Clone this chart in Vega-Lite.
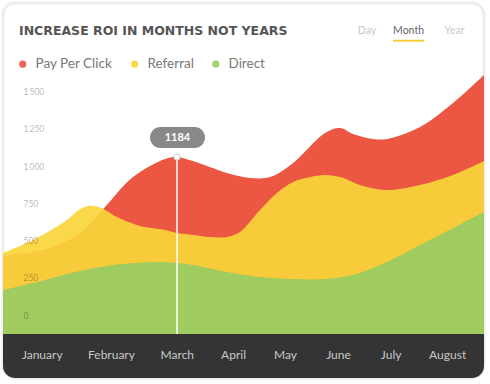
{
  "$schema": "https://vega.github.io/schema/vega-lite/v6.json",
  "autosize": {"type": "none"},
  "padding": {"left": 3, "top": 60, "right": 6, "bottom": 6},
  "width": 481,
  "height": 318,
  "background": "#ffffff",
  "config": {"view": {"stroke": null}},
  "title": {"text": "INCREASE ROI IN MONTHS NOT YEARS", "anchor": "start", "frame": "group", "orient": "top", "font": "DejaVu Sans", "fontSize": 12.5, "fontWeight": "bold", "color": "#555555", "dx": 16, "offset": -42.5, "baseline": "middle"},
  "data": {"values": [
    {"series": "Pay Per Click", "t": 0, "v": 397},
    {"series": "Pay Per Click", "t": 0.782, "v": 451},
    {"series": "Pay Per Click", "t": 1.281, "v": 551},
    {"series": "Pay Per Click", "t": 1.696, "v": 725},
    {"series": "Pay Per Click", "t": 2.162, "v": 926},
    {"series": "Pay Per Click", "t": 2.695, "v": 1047},
    {"series": "Pay Per Click", "t": 2.894, "v": 1060},
    {"series": "Pay Per Click", "t": 3.16, "v": 1033},
    {"series": "Pay Per Click", "t": 3.726, "v": 953},
    {"series": "Pay Per Click", "t": 4.108, "v": 920},
    {"series": "Pay Per Click", "t": 4.441, "v": 926},
    {"series": "Pay Per Click", "t": 4.824, "v": 1020},
    {"series": "Pay Per Click", "t": 5.356, "v": 1221},
    {"series": "Pay Per Click", "t": 5.605, "v": 1254},
    {"series": "Pay Per Click", "t": 5.821, "v": 1214},
    {"series": "Pay Per Click", "t": 6.154, "v": 1181},
    {"series": "Pay Per Click", "t": 6.387, "v": 1181},
    {"series": "Pay Per Click", "t": 6.936, "v": 1261},
    {"series": "Pay Per Click", "t": 7.484, "v": 1422},
    {"series": "Pay Per Click", "t": 8, "v": 1610},
    {"series": "Referral", "t": 0, "v": 417},
    {"series": "Referral", "t": 0.499, "v": 504},
    {"series": "Referral", "t": 1.064, "v": 638},
    {"series": "Referral", "t": 1.23, "v": 697},
    {"series": "Referral", "t": 1.43, "v": 733},
    {"series": "Referral", "t": 1.613, "v": 722},
    {"series": "Referral", "t": 1.78, "v": 686},
    {"series": "Referral", "t": 1.896, "v": 658},
    {"series": "Referral", "t": 2.279, "v": 598},
    {"series": "Referral", "t": 2.695, "v": 571},
    {"series": "Referral", "t": 2.894, "v": 551},
    {"series": "Referral", "t": 3.16, "v": 538},
    {"series": "Referral", "t": 3.443, "v": 524},
    {"series": "Referral", "t": 3.726, "v": 524},
    {"series": "Referral", "t": 3.942, "v": 558},
    {"series": "Referral", "t": 4.274, "v": 705},
    {"series": "Referral", "t": 4.557, "v": 819},
    {"series": "Referral", "t": 4.824, "v": 893},
    {"series": "Referral", "t": 5.106, "v": 926},
    {"series": "Referral", "t": 5.356, "v": 940},
    {"series": "Referral", "t": 5.605, "v": 926},
    {"series": "Referral", "t": 5.988, "v": 866},
    {"series": "Referral", "t": 6.387, "v": 839},
    {"series": "Referral", "t": 6.936, "v": 873},
    {"series": "Referral", "t": 7.484, "v": 940},
    {"series": "Referral", "t": 8, "v": 1034},
    {"series": "Direct", "t": 0, "v": 169},
    {"series": "Direct", "t": 0.499, "v": 216},
    {"series": "Direct", "t": 1.064, "v": 277},
    {"series": "Direct", "t": 1.613, "v": 324},
    {"series": "Direct", "t": 2.162, "v": 350},
    {"series": "Direct", "t": 2.695, "v": 357},
    {"series": "Direct", "t": 3.16, "v": 337},
    {"series": "Direct", "t": 3.726, "v": 290},
    {"series": "Direct", "t": 4.274, "v": 257},
    {"series": "Direct", "t": 4.824, "v": 243},
    {"series": "Direct", "t": 5.356, "v": 243},
    {"series": "Direct", "t": 5.821, "v": 270},
    {"series": "Direct", "t": 6.387, "v": 357},
    {"series": "Direct", "t": 6.936, "v": 471},
    {"series": "Direct", "t": 7.484, "v": 585},
    {"series": "Direct", "t": 8, "v": 692}
  ]},
  "layer": [
    {
      "data": {"values": [{}]},
      "mark": {"type": "rect", "fill": "#ffffff", "cornerRadius": 12, "stroke": "#000000", "strokeOpacity": 0.07, "strokeWidth": 3},
      "encoding": {
        "x": {"datum": 0, "type": "quantitative", "scale": {"domain": [0, 8], "nice": false, "zero": false}, "axis": {"values": [0.644, 1.796, 2.891, 3.826, 4.69, 5.572, 6.448, 7.387], "labelExpr": "datum.value < 1 ? 'January' : datum.value < 2 ? 'February' : datum.value < 3 ? 'March' : datum.value < 4 ? 'April' : datum.value < 5 ? 'May' : datum.value < 6 ? 'June' : datum.value < 7 ? 'July' : 'August'", "title": null, "grid": false, "domain": false, "ticks": false, "tickSize": 0, "labelPadding": 0, "offset": -24, "labelBaseline": "middle", "labelFlush": false, "labelOverlap": false, "labelFont": "Lato", "labelFontSize": 12, "labelColor": "#c8c8c8", "zindex": 1}},
        "x2": {"datum": 8},
        "y": {"datum": 2092, "type": "quantitative", "scale": {"domain": [-420, 1710], "nice": false, "zero": false}, "axis": {"values": [0, 250, 500, 750, 1000, 1250, 1500], "labelExpr": "replace(format(datum.value, ','), ',', '\u2009')", "title": null, "grid": false, "domain": false, "ticks": false, "tickSize": 0, "labelPadding": -20, "labelAlign": "left", "labelBaseline": "middle", "labelFlush": false, "labelOverlap": false, "labelFont": "Lato", "labelFontSize": 8.5, "labelColor": "#000000", "labelOpacity": 0.3, "zindex": 1}},
        "y2": {"datum": -420}
      }
    },
    {
      "transform": [{"filter": "datum.series == 'Pay Per Click'"}],
      "mark": {"type": "area", "interpolate": "catmull-rom", "opacity": 1},
      "encoding": {
        "x": {"field": "t", "type": "quantitative"},
        "y": {"field": "v", "type": "quantitative"},
        "y2": {"datum": -125},
        "color": {"field": "series", "type": "nominal", "scale": {"domain": ["Pay Per Click", "Referral", "Direct"], "range": ["#EC5743", "#F9D53B", "#A0CB5E"]}, "legend": {"title": null, "orient": "none", "legendX": 13, "legendY": -3, "direction": "horizontal", "symbolType": "circle", "symbolSize": 50, "symbolStrokeWidth": 0, "symbolOpacity": 1, "labelFont": "Lato", "labelFontSize": 13.5, "labelColor": "#777777", "labelOffset": 6, "columnPadding": 15}}
      }
    },
    {
      "transform": [{"filter": "datum.series == 'Referral'"}],
      "mark": {"type": "area", "interpolate": "catmull-rom", "opacity": 0.92},
      "encoding": {
        "x": {"field": "t", "type": "quantitative"},
        "y": {"field": "v", "type": "quantitative"},
        "y2": {"datum": -125},
        "color": {"field": "series", "type": "nominal"}
      }
    },
    {
      "transform": [{"filter": "datum.series == 'Direct'"}],
      "mark": {"type": "area", "interpolate": "catmull-rom", "opacity": 1},
      "encoding": {
        "x": {"field": "t", "type": "quantitative"},
        "y": {"field": "v", "type": "quantitative"},
        "y2": {"datum": -125},
        "color": {"field": "series", "type": "nominal"}
      }
    },
    {
      "data": {"values": [{}]},
      "mark": {"type": "rect", "fill": "#343434", "cornerRadiusBottomLeft": 12, "cornerRadiusBottomRight": 12},
      "encoding": {"x": {"datum": 0}, "x2": {"datum": 8}, "y": {"datum": -125}, "y2": {"datum": -420}}
    },
    {
      "data": {"values": [{}]},
      "mark": {"type": "rule", "color": "#ffffff", "strokeWidth": 1.5},
      "encoding": {"x": {"datum": 2.894}, "y": {"datum": 1060}, "y2": {"datum": -125}}
    },
    {
      "data": {"values": [{}]},
      "mark": {"type": "point", "filled": true, "fill": "#ffffff", "size": 40, "stroke": "#cccccc", "strokeWidth": 1, "opacity": 1},
      "encoding": {"x": {"datum": 2.894}, "y": {"datum": 1060}}
    },
    {
      "data": {"values": [{}]},
      "mark": {"type": "rect", "fill": "#888888", "cornerRadius": 10.5},
      "encoding": {"x": {"datum": 2.445}, "x2": {"datum": 3.36}, "y": {"datum": 1261}, "y2": {"datum": 1120}}
    },
    {
      "data": {"values": [{}]},
      "mark": {"type": "text", "color": "#ffffff", "font": "Lato", "fontWeight": "bold", "fontSize": 11, "align": "center", "baseline": "middle"},
      "encoding": {"x": {"datum": 2.902}, "y": {"datum": 1190}, "text": {"value": "1184"}}
    },
    {
      "data": {"values": [{}]},
      "mark": {"type": "text", "color": "#c8c8c8", "font": "Lato", "fontSize": 10.5, "align": "center", "baseline": "middle"},
      "encoding": {"x": {"datum": 6.054}, "y": {"datum": 1901}, "text": {"value": "Day"}}
    },
    {
      "data": {"values": [{}]},
      "mark": {"type": "text", "color": "#666666", "font": "Lato", "fontSize": 10.5, "align": "center", "baseline": "middle"},
      "encoding": {"x": {"datum": 6.745}, "y": {"datum": 1901}, "text": {"value": "Month"}}
    },
    {
      "data": {"values": [{}]},
      "mark": {"type": "text", "color": "#c8c8c8", "font": "Lato", "fontSize": 10.5, "align": "center", "baseline": "middle"},
      "encoding": {"x": {"datum": 7.51}, "y": {"datum": 1901}, "text": {"value": "Year"}}
    },
    {
      "data": {"values": [{}]},
      "mark": {"type": "rule", "color": "#F8CF3C", "strokeWidth": 2},
      "encoding": {"x": {"datum": 6.486}, "x2": {"datum": 7.002}, "y": {"datum": 1839}}
    }
  ]
}
